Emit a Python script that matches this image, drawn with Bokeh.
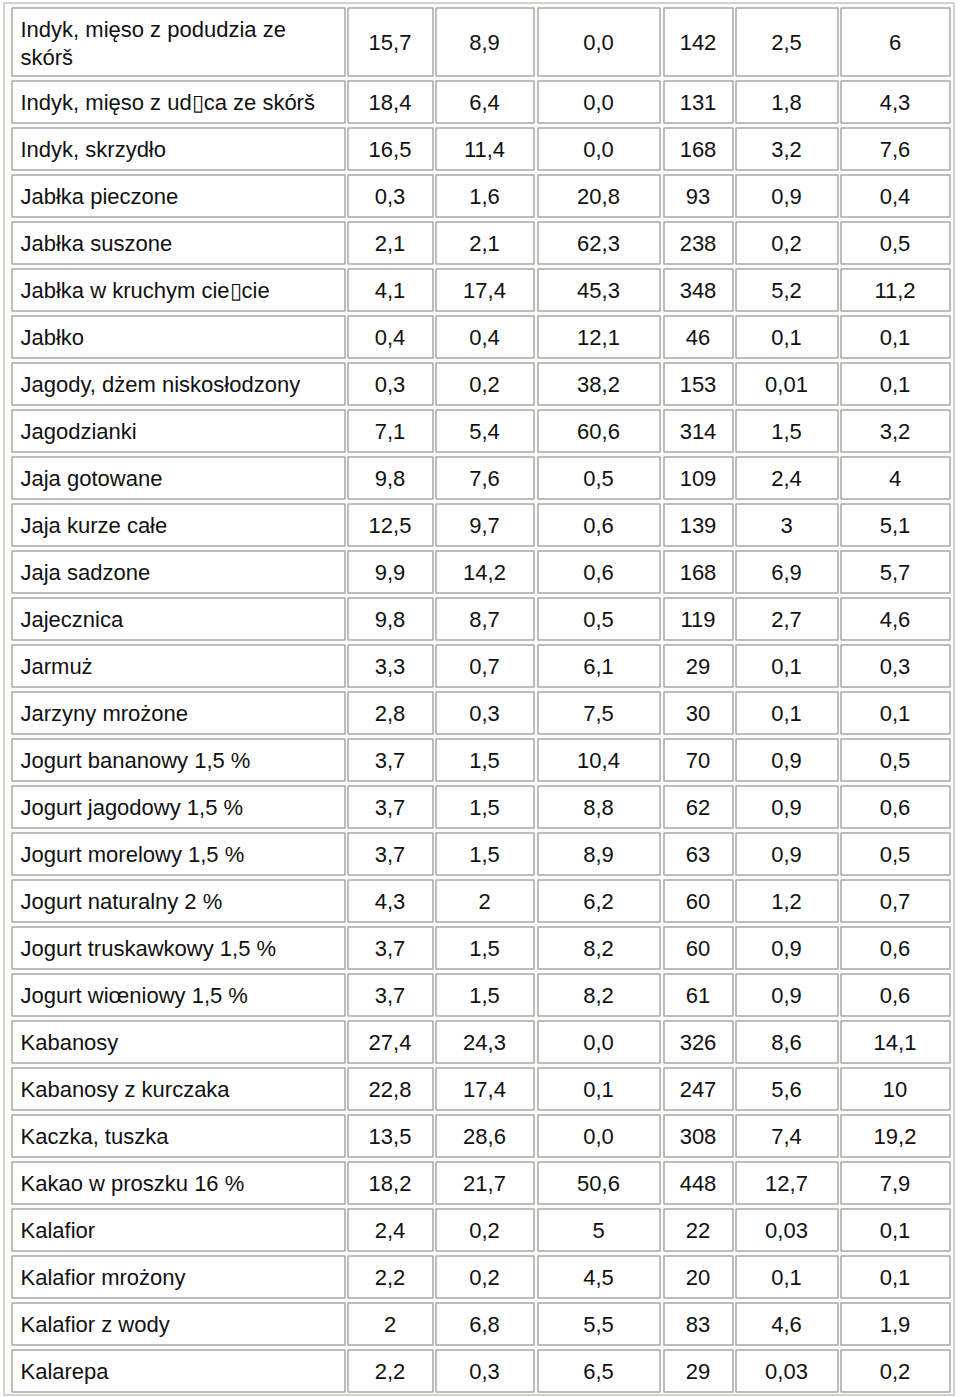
from bokeh.plotting import figure
from bokeh.models import ColumnDataSource, Range1d
from bokeh.core.properties import value
from bokeh.embed import file_html
from bokeh.resources import INLINE

# ---- data ----
names = [
    "Indyk, mięso z podudzia ze\nskórš",
    "Indyk, mięso z ud\u25afca ze skórš",
    "Indyk, skrzydło",
    "Jabłka pieczone",
    "Jabłka suszone",
    "Jabłka w kruchym cie\u25afcie",
    "Jabłko",
    "Jagody, dżem niskosłodzony",
    "Jagodzianki",
    "Jaja gotowane",
    "Jaja kurze całe",
    "Jaja sadzone",
    "Jajecznica",
    "Jarmuż",
    "Jarzyny mrożone",
    "Jogurt bananowy 1,5 %",
    "Jogurt jagodowy 1,5 %",
    "Jogurt morelowy 1,5 %",
    "Jogurt naturalny 2 %",
    "Jogurt truskawkowy 1,5 %",
    "Jogurt wiœniowy 1,5 %",
    "Kabanosy",
    "Kabanosy z kurczaka",
    "Kaczka, tuszka",
    "Kakao w proszku 16 %",
    "Kalafior",
    "Kalafior mrożony",
    "Kalafior z wody",
    "Kalarepa",
]
col_a = ["15,7", "18,4", "16,5", "0,3", "2,1", "4,1", "0,4", "0,3", "7,1", "9,8", "12,5", "9,9", "9,8", "3,3", "2,8",
         "3,7", "3,7", "3,7", "4,3", "3,7", "3,7", "27,4", "22,8", "13,5", "18,2", "2,4", "2,2", "2", "2,2"]
col_b = ["8,9", "6,4", "11,4", "1,6", "2,1", "17,4", "0,4", "0,2", "5,4", "7,6", "9,7", "14,2", "8,7", "0,7", "0,3",
         "1,5", "1,5", "1,5", "2", "1,5", "1,5", "24,3", "17,4", "28,6", "21,7", "0,2", "0,2", "6,8", "0,3"]
col_c = ["0,0", "0,0", "0,0", "20,8", "62,3", "45,3", "12,1", "38,2", "60,6", "0,5", "0,6", "0,6", "0,5", "6,1", "7,5",
         "10,4", "8,8", "8,9", "6,2", "8,2", "8,2", "0,0", "0,1", "0,0", "50,6", "5", "4,5", "5,5", "6,5"]
col_d = ["142", "131", "168", "93", "238", "348", "46", "153", "314", "109", "139", "168", "119", "29", "30",
         "70", "62", "63", "60", "60", "61", "326", "247", "308", "448", "22", "20", "83", "29"]
col_e = ["2,5", "1,8", "3,2", "0,9", "0,2", "5,2", "0,1", "0,01", "1,5", "2,4", "3", "6,9", "2,7", "0,1", "0,1",
         "0,9", "0,9", "0,9", "1,2", "0,9", "0,9", "8,6", "5,6", "7,4", "12,7", "0,03", "0,1", "4,6", "0,03"]
col_f = ["6", "4,3", "7,6", "0,4", "0,5", "11,2", "0,1", "0,1", "3,2", "4", "5,1", "5,7", "4,6", "0,3", "0,1",
         "0,5", "0,6", "0,5", "0,7", "0,6", "0,6", "14,1", "10", "19,2", "7,9", "0,1", "0,1", "1,9", "0,2"]

# ---- layout (page pixel coordinates) ----
col_left = [11, 347, 435, 537, 663, 735, 840]
col_right = [344, 432, 533, 659, 732, 837, 949]
n = len(names)
row_top = [7] + [80 + 47 * i for i in range(n - 1)]
row_bot = [75] + [122 + 47 * i for i in range(n - 1)]

FONT = value("Liberation Sans")
FS = "22px"

p = figure(width=959, height=1396, x_range=Range1d(0, 959), y_range=Range1d(1396, 0),
           output_backend="svg", toolbar_location=None, min_border=0)
p.axis.visible = False
p.grid.visible = False
p.outline_line_color = None
p.background_fill_color = "white"
p.border_fill_color = "white"

# outer table border
p.quad(left=[3.5], right=[953.5], top=[2.5], bottom=[1394.5], fill_color="#fbfbf9",
       line_color="#c4c4c0", line_width=1.5)

# cells
L, R, T, B = [], [], [], []
for i in range(n):
    for j in range(7):
        L.append(col_left[j] + 0.5)
        R.append(col_right[j] + 0.5)
        T.append(row_top[i] + 0.5)
        B.append(row_bot[i] + 0.5)
p.quad(left=L, right=R, top=T, bottom=B, fill_color="white", line_color="#a8a8a4", line_width=1.5)

# names
yc = [(row_top[i] + row_bot[i]) / 2 + 1 for i in range(n)]
yname = [yc[0] + 1] + yc[1:]
src = ColumnDataSource(dict(x=[20] * n, y=yname, t=names))
p.text(x="x", y="y", text="t", source=src, text_font=FONT, text_font_size=FS,
       text_align="left", text_baseline="middle", text_color="#111111", text_line_height=1.15)

# numbers
for j, col in enumerate([col_a, col_b, col_c, col_d, col_e, col_f]):
    cx = (col_left[j + 1] + col_right[j + 1]) / 2
    s = ColumnDataSource(dict(x=[cx] * n, y=yc, t=col))
    p.text(x="x", y="y", text="t", source=s, text_font=FONT, text_font_size=FS,
           text_align="center", text_baseline="middle", text_color="#111111")

open("out.html", "w").write(file_html(p, INLINE))
